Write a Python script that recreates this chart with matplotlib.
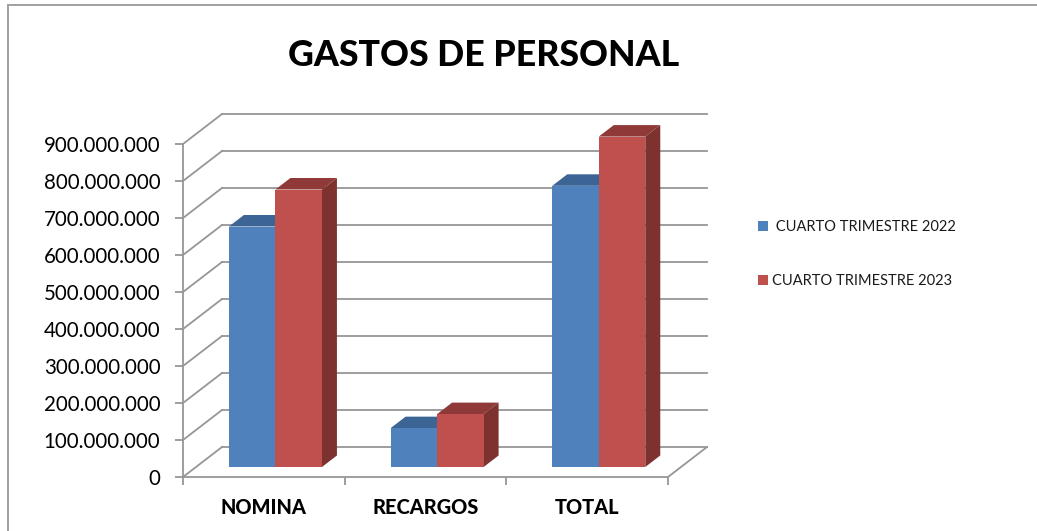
import matplotlib
matplotlib.use("Agg")
import matplotlib.pyplot as plt
from matplotlib.lines import Line2D
from matplotlib.patches import Patch
from matplotlib.ticker import FuncFormatter

categories = ["NOMINA", "RECARGOS", "TOTAL"]
series_2022 = [650e6, 105e6, 760e6]
series_2023 = [750e6, 143e6, 893e6]
label_2022 = " CUARTO TRIMESTRE 2022"
label_2023 = "CUARTO TRIMESTRE 2023"
title = "GASTOS DE PERSONAL"
y_ticks = list(range(0, 900000001, 100000000))

W, H = 1037, 531
L, R, T, B = 183, 668, 144, 477
fig = plt.figure(figsize=(W / 100, H / 100), dpi=100, facecolor="white")
plt.rcParams["font.family"] = ["Lato", "DejaVu Sans"]
ax = fig.add_axes([L / W, 1 - B / H, (R - L) / W, (B - T) / H])
ax.set_xlim(0, 3)
ax.set_ylim(0, 900e6)
ax.patch.set_visible(False)

px = 3 / (R - L)
py = 900e6 / (B - T)
GRID = "#969696"
LW = 1.3

# floor / wall offsets in pixels, converted to data units
wall_dx, wall_dy = 39 * px, 30 * py
for v in y_ticks:
    ax.plot([0, wall_dx], [v, v + wall_dy], color=GRID, lw=LW, clip_on=False, zorder=1)
    ax.plot([wall_dx, 3 + wall_dx], [v + wall_dy, v + wall_dy], color=GRID, lw=LW, clip_on=False, zorder=1)
ax.plot([3, 3 + wall_dx], [0, wall_dy], color=GRID, lw=LW, clip_on=False, zorder=1)

BLUE, BLUE_TOP, BLUE_SIDE = "#4F81BD", "#3C6494", "#376092"
RED, RED_TOP, RED_SIDE = "#C0504D", "#8F3A38", "#7D3230"
bar_w = 46.5 / (R - L) * 3
off_x, off_y = 11.6 * px, 10 * py
dep_x, dep_y = 15 * px, 11.5 * py


def draw(positions, values, face, top, side, z):
    ax.bar(positions, values, width=bar_w, bottom=off_y, color=face, edgecolor="none",
           clip_on=False, zorder=z + 2)
    for x, v in zip(positions, values):
        x0, x1 = x - bar_w / 2, x + bar_w / 2
        y1 = v + off_y
        ax.fill([x0, x1, x1 + dep_x, x0 + dep_x], [y1, y1, y1 + dep_y, y1 + dep_y],
                color=top, lw=0, clip_on=False, zorder=z)
        ax.fill([x1, x1 + dep_x, x1 + dep_x, x1], [off_y, off_y + dep_y, y1 + dep_y, y1],
                color=side, lw=0, clip_on=False, zorder=z + 1)


centers = [i + 0.5 + off_x for i in range(len(categories))]
draw([c - bar_w / 2 for c in centers], series_2022, BLUE, BLUE_TOP, BLUE_SIDE, 3)
draw([c + bar_w / 2 for c in centers], series_2023, RED, RED_TOP, RED_SIDE, 6)

for s in ("top", "right"):
    ax.spines[s].set_visible(False)
for s in ("left", "bottom"):
    ax.spines[s].set_color(GRID)
    ax.spines[s].set_linewidth(LW)

ax.set_yticks(y_ticks)
ax.yaxis.set_major_formatter(FuncFormatter(lambda v, _: f"{int(v):,}".replace(",", ".")))
ax.tick_params(axis="y", length=5.8, width=LW, color=GRID, pad=10.5, labelsize=14.8, labelcolor="#000000")
ax.set_xticks([0, 1, 2, 3])
ax.set_xticklabels([])
ax.tick_params(axis="x", length=5.8, width=LW, color=GRID)
for i, name in enumerate(categories):
    ax.text(i + 0.5, 0, name, transform=ax.get_xaxis_transform(), ha="center", va="center",
            fontsize=14.4, fontweight="black", color="#000000",
            position=(i + 0.5, -31 / (B - T)))

fig.text(484 / W, 1 - 56 / H, title, ha="center", va="center", fontsize=25.7, fontweight="black", color="#000000")

# chart frame (top and left edges only)
fig.add_artist(Line2D([7.5 / W, 7.5 / W], [0, 1 - 4.5 / H], color="#A0A0A0", lw=1.4))
fig.add_artist(Line2D([7.5 / W, 1], [1 - 4.5 / H, 1 - 4.5 / H], color="#A0A0A0", lw=1.4))

handles = [Patch(facecolor=BLUE, label=label_2022), Patch(facecolor=RED, label=label_2023)]
fig.legend(handles=handles, loc="upper left", bbox_to_anchor=(745 / W, 1 - 207 / H),
           frameon=False, fontsize=10.5, handlelength=0.68, handleheight=0.68,
           handletextpad=0.3, labelspacing=2.75, labelcolor="#1A1A1A")

fig.savefig("out.png", dpi=100, facecolor="white")
